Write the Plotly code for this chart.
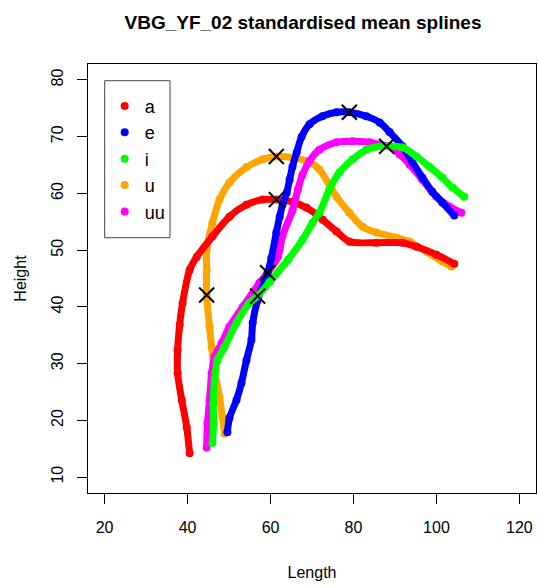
import plotly.graph_objects as go

# ---- data ----
vowels = ["a", "e", "i", "u", "uu"]
colors = {"a": "#FF0000", "e": "#0000FF", "i": "#00FF00", "u": "#FFA500", "uu": "#FF00FF"}

a_len = [40.5, 39.8, 38.6, 37.6, 37.6, 38.1, 38.8, 40.5, 42.2, 46.0, 50.1, 54.2, 58.1, 61.4, 65.3, 68.6, 71.1, 72.5, 75.9, 79.0, 85.5, 91.8, 95.2, 100.0, 104.3]
a_hgt = [14.2, 18.8, 23.6, 28.3, 32.4, 36.8, 40.7, 46.5, 48.8, 52.4, 55.9, 58.0, 58.9, 58.9, 58.5, 57.5, 56.3, 55.4, 53.3, 51.5, 51.3, 51.3, 50.6, 49.2, 47.6]

e_len = [49.6, 50.1, 51.8, 53.0, 54.2, 55.4, 55.7, 56.9, 59.3, 60.2, 61.4, 62.2, 62.9, 63.9, 64.6, 65.3, 66.3, 67.5, 69.4, 72.5, 75.9, 79.0, 83.1, 86.3, 88.7, 91.8, 94.2, 96.6, 99.0, 101.4, 104.3]
e_hgt = [17.9, 20.4, 23.6, 26.6, 30.6, 34.2, 37.2, 41.2, 46.0, 48.6, 53.1, 55.9, 58.0, 60.1, 62.4, 64.7, 67.2, 70.0, 72.2, 73.6, 74.3, 74.3, 73.6, 72.5, 70.8, 68.3, 65.5, 62.8, 60.3, 58.4, 56.1]

i_len = [46.0, 46.3, 46.2, 46.5, 47.2, 48.9, 51.8, 54.9, 56.9, 59.8, 64.2, 67.7, 70.1, 71.8, 74.2, 76.6, 79.8, 83.1, 87.0, 91.8, 95.2, 98.3, 101.4, 103.9, 106.7]
i_hgt = [16.0, 19.5, 23.0, 27.1, 30.6, 32.9, 37.2, 40.7, 41.9, 44.4, 48.3, 51.8, 54.8, 56.6, 60.7, 63.7, 66.0, 67.7, 68.3, 68.1, 66.5, 64.7, 62.8, 61.0, 59.4]

u_len = [48.9, 48.4, 47.7, 46.5, 45.8, 45.3, 44.6, 44.6, 44.6, 46.0, 47.7, 50.1, 54.2, 58.1, 61.4, 65.3, 69.4, 71.8, 75.9, 79.0, 82.2, 85.5, 90.4, 93.5, 97.6, 101.4, 103.6]
u_hgt = [17.7, 20.6, 24.1, 28.9, 32.9, 36.5, 42.1, 46.5, 50.1, 54.8, 58.9, 61.9, 64.6, 66.0, 66.5, 66.3, 65.5, 64.2, 59.4, 56.6, 54.1, 53.1, 52.2, 51.5, 49.7, 48.0, 47.1]

uu_len = [44.6, 44.8, 45.3, 45.8, 46.5, 48.2, 50.1, 53.3, 57.3, 59.3, 61.8, 62.9, 65.3, 66.6, 67.7, 69.4, 71.8, 75.9, 79.8, 83.9, 86.3, 88.7, 91.1, 93.5, 96.6, 100.0, 103.1, 106.0]
uu_hgt = [15.2, 19.5, 23.6, 28.3, 31.2, 33.6, 36.5, 40.0, 44.2, 46.0, 48.8, 52.5, 57.0, 60.7, 63.3, 65.7, 67.7, 69.0, 69.2, 69.0, 68.6, 68.3, 66.9, 65.1, 62.4, 59.4, 57.7, 56.6]

mark_len = [61.4, 44.6, 61.4, 79.0, 88.0, 59.3, 56.9]
mark_hgt = [58.9, 42.1, 66.5, 74.3, 68.3, 46.0, 41.9]

x_ticks = [20, 40, 60, 80, 100, 120]
y_ticks = [10, 20, 30, 40, 50, 60, 70, 80]

series = {"a": (a_len, a_hgt), "e": (e_len, e_hgt), "i": (i_len, i_hgt),
          "u": (u_len, u_hgt), "uu": (uu_len, uu_hgt)}
draw_order = ["u", "a", "uu", "e", "i"]

FONT = "Liberation Sans, Arial, sans-serif"

W, H = 538, 588
ML, MR, MT, MB = 88, 2, 64, 95
PW, PH = W - ML - MR, H - MT - MB

def px_x(page_x):
    return (page_x - ML) / PW

def px_y(page_y):
    return 1 - (page_y - MT) / PH

fig = go.Figure()
for v in draw_order:
    xs, ys = series[v]
    fig.add_trace(go.Scatter(x=xs, y=ys, mode="lines", showlegend=False,
                             line=dict(color=colors[v], width=7, shape="spline", smoothing=0.8),
                             legendgroup=v, hoverinfo="skip"))
    fig.add_trace(go.Scatter(x=xs, y=ys, mode="markers", name=v, legendgroup=v,
                             legendrank=vowels.index(v) + 1,
                             marker=dict(color=colors[v], size=8)))

fig.add_trace(go.Scatter(x=mark_len, y=mark_hgt, mode="markers", showlegend=False,
                         marker=dict(symbol="x-thin", size=15, color="black",
                                     line=dict(color="black", width=2))))

axis_common = dict(showgrid=False, zeroline=False, showline=True, mirror=True,
                   linecolor="black", linewidth=1, ticks="outside", ticklen=10,
                   tickcolor="black", tickwidth=1, automargin=False,
                   tickfont=dict(family=FONT, size=16, color="black"))

fig.update_layout(
    width=W, height=H,
    margin=dict(l=ML, r=MR, t=MT, b=MB),
    paper_bgcolor="white", plot_bgcolor="white",
    font=dict(family=FONT, color="black"),
    title=dict(text="<b>VBG_YF_02 standardised mean splines</b>",
               x=303 / W, xref="container", xanchor="center",
               y=1 - 22 / H, yref="container", yanchor="middle",
               font=dict(family=FONT, size=19, color="black")),
    xaxis=dict(range=[16, 124], tickvals=x_ticks, ticklabelstandoff=10,
               title=dict(text="Length", standoff=31, font=dict(family=FONT, size=16)),
               **axis_common),
    yaxis=dict(range=[7.2, 82.8], tickvals=y_ticks, tickangle=-90, ticklabelstandoff=8,
               title=dict(text="Height", standoff=17, font=dict(family=FONT, size=16)),
               **axis_common),
    legend=dict(x=px_x(104.7), y=px_y(87.7), xanchor="left", yanchor="top",
                borderwidth=0, bgcolor="rgba(0,0,0,0)",
                font=dict(family=FONT, size=18, color="black"),
                tracegroupgap=0, itemwidth=30),
    shapes=[dict(type="rect", xref="paper", yref="paper",
                 x0=px_x(104.7), x1=px_x(170), y0=px_y(237.7), y1=px_y(80.7),
                 line=dict(color="#444444", width=1), fillcolor="white", layer="below")],
)

fig.write_html("out.html", config={"displayModeBar": False},
               post_script="document.body.style.margin='0';document.body.style.overflow='hidden';")
